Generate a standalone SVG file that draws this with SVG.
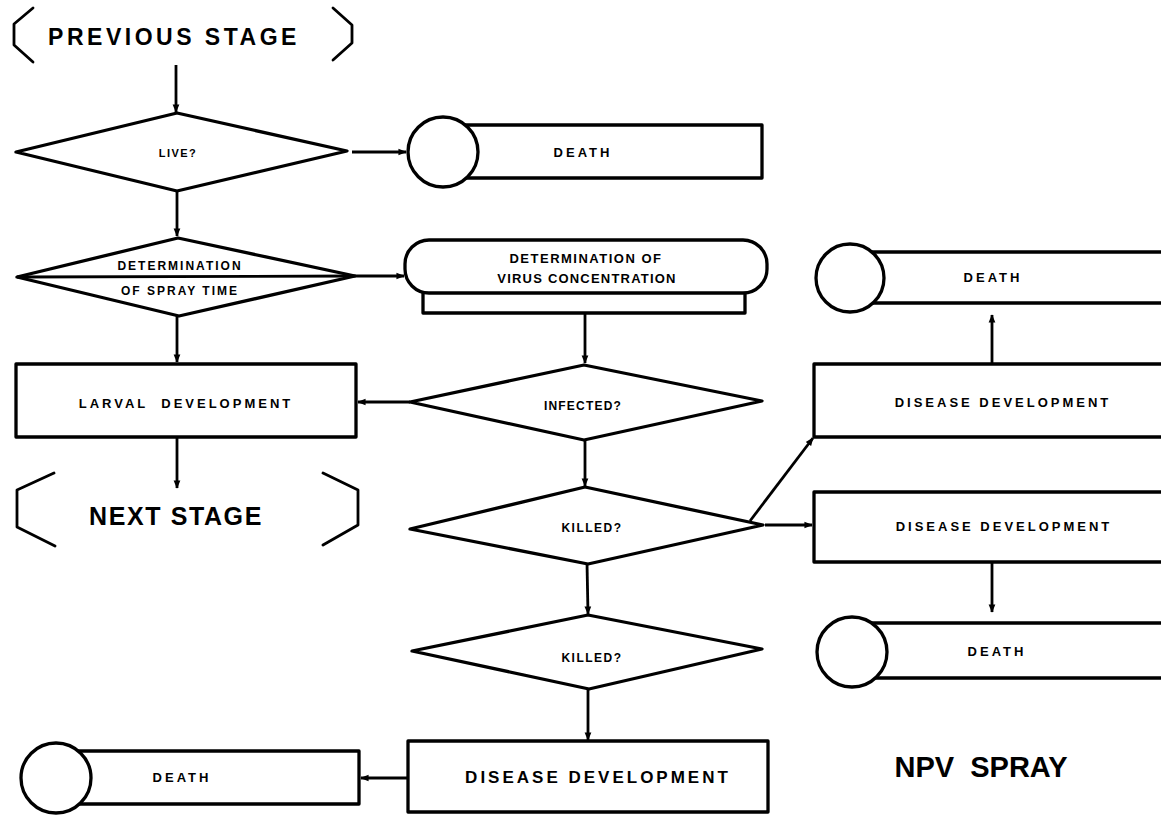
<svg xmlns="http://www.w3.org/2000/svg" width="1161" height="815" viewBox="0 0 1161 815">
<style>
.s{fill:#fff;stroke:#000;stroke-width:3.3;stroke-linejoin:round}
.b{fill:none;stroke:#000;stroke-width:2.8;stroke-linejoin:round;stroke-linecap:round}
.c{fill:none;stroke:#000;stroke-width:2.8}
text{font-family:"Liberation Sans",Arial,sans-serif;font-weight:bold;fill:#000;text-anchor:middle;white-space:pre}
.t{font-size:12px;letter-spacing:1.5px}
.m{font-size:13px;letter-spacing:3px}
.l{font-size:23px;letter-spacing:3.5px}
</style>
<defs>
<marker id="a" viewBox="0 0 10 10" refX="9" refY="5" markerWidth="3" markerHeight="3" orient="auto" markerUnits="strokeWidth">
<path d="M0,1 L10,5 L0,9 Z" fill="#000"/>
</marker>
</defs>
<g id="connectors" class="c">
<line x1="176" y1="65" x2="176" y2="112" marker-end="url(#a)"/>
<line x1="177" y1="192" x2="177" y2="236" marker-end="url(#a)"/>
<line x1="177" y1="316" x2="177" y2="362" marker-end="url(#a)"/>
<line x1="177" y1="437" x2="177" y2="488" marker-end="url(#a)"/>
<line x1="352" y1="152" x2="406" y2="152" marker-end="url(#a)"/>
<line x1="355" y1="276" x2="404" y2="276" marker-end="url(#a)"/>
<line x1="585" y1="313" x2="585" y2="363" marker-end="url(#a)"/>
<line x1="410" y1="402" x2="358" y2="402" marker-end="url(#a)"/>
<line x1="585" y1="440" x2="585" y2="486" marker-end="url(#a)"/>
<line x1="750" y1="521" x2="813" y2="438" marker-end="url(#a)"/>
<line x1="765" y1="525" x2="812" y2="525" marker-end="url(#a)"/>
<line x1="992" y1="364" x2="992" y2="315" marker-end="url(#a)"/>
<line x1="992" y1="562" x2="992" y2="612" marker-end="url(#a)"/>
<line x1="587" y1="563" x2="588" y2="614" marker-end="url(#a)"/>
<line x1="588" y1="689" x2="588" y2="740" marker-end="url(#a)"/>
<line x1="408" y1="778" x2="361" y2="778" marker-end="url(#a)"/>
</g>
<g id="previous-stage">
<polyline class="b" points="33,8 14,24 14,45 33,62"/>
<polyline class="b" points="333,8 352,25 352,43 333,60"/>
<text class="l" x="174" y="45">PREVIOUS STAGE</text>
</g>
<g id="live">
<polygon class="s" points="16,152 177,113 347,151 177,191"/>
<text class="t" x="178" y="157" style="font-size:11px">LIVE?</text>
</g>
<g id="death1">
<rect class="s" x="443" y="125" width="319" height="53"/>
<circle class="s" cx="443" cy="152" r="35"/>
<text class="m" x="583" y="157">DEATH</text>
</g>
<g id="spray-time">
<polygon class="s" points="17,277 178,238 355,276 179,316"/>
<line class="c" x1="17" y1="277" x2="355" y2="276"/>
<text class="t" x="180" y="270" style="letter-spacing:2px">DETERMINATION</text>
<text class="t" x="180" y="295" style="letter-spacing:2px">OF SPRAY TIME</text>
</g>
<g id="virus-concentration">
<rect class="s" x="423" y="290" width="322" height="23"/>
<rect class="s" x="405" y="240" width="362" height="53" rx="24" ry="24"/>
<text class="t" x="586" y="263" style="font-size:13px;letter-spacing:1.5px">DETERMINATION OF</text>
<text class="t" x="587" y="283" style="font-size:13px;letter-spacing:1.2px">VIRUS CONCENTRATION</text>
</g>
<g id="larval-development">
<rect class="s" x="16" y="364" width="340" height="73"/>
<text class="m" x="186" y="408">LARVAL  DEVELOPMENT</text>
</g>
<g id="next-stage">
<polyline class="b" points="54,473 17,490 17,527 55,546"/>
<polyline class="b" points="323,473 358,490 358,525 323,545"/>
<text x="176" y="525" style="font-size:25px;letter-spacing:1.6px">NEXT STAGE</text>
</g>
<g id="infected">
<polygon class="s" points="410,402 584,365 762,401 584,440"/>
<text class="t" x="583" y="410" style="letter-spacing:1.2px">INFECTED?</text>
</g>
<g id="killed1">
<polygon class="s" points="410,529 585,487 763,525 588,564"/>
<text class="t" x="592" y="532">KILLED?</text>
</g>
<g id="death-tr">
<rect class="s" x="850" y="252" width="320" height="51"/>
<circle class="s" cx="850" cy="278" r="34"/>
<text class="m" x="993" y="282">DEATH</text>
</g>
<g id="disease1">
<rect class="s" x="814" y="364" width="356" height="73"/>
<text class="m" x="1003" y="407">DISEASE DEVELOPMENT</text>
</g>
<g id="disease2">
<rect class="s" x="814" y="492" width="356" height="70"/>
<text class="m" x="1004" y="531">DISEASE DEVELOPMENT</text>
</g>
<g id="death-lr">
<rect class="s" x="852" y="623" width="318" height="55"/>
<circle class="s" cx="852" cy="652" r="35"/>
<text class="m" x="997" y="656">DEATH</text>
</g>
<g id="killed2">
<polygon class="s" points="412,651 588,615 762,649 589,689"/>
<text class="t" x="592" y="662">KILLED?</text>
</g>
<g id="disease3">
<rect class="s" x="408" y="741" width="360" height="71"/>
<text x="598" y="783" style="font-size:17px;letter-spacing:3px">DISEASE DEVELOPMENT</text>
</g>
<g id="death-bl">
<rect class="s" x="56" y="751" width="303" height="53"/>
<circle class="s" cx="56" cy="778" r="35"/>
<text class="m" x="182" y="782">DEATH</text>
</g>
<text x="981" y="777" style="font-size:29px;letter-spacing:0px" id="npv-spray">NPV  SPRAY</text>
</svg>
